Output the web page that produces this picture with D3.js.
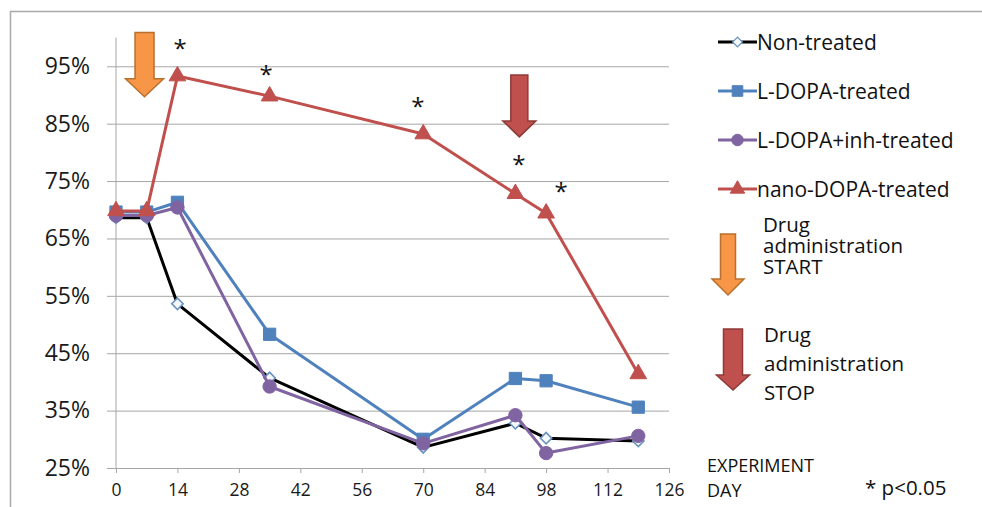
<!DOCTYPE html>
<html>
<head>
<meta charset="utf-8">
<script src="https://cdn.jsdelivr.net/npm/d3@7/dist/d3.min.js"></script>
<style>
  html, body { margin: 0; padding: 0; background: #fff; }
  svg { display: block; font-family: "Open Sans", sans-serif; }
</style>
</head>
<body>
<svg id="chart" width="982" height="507"></svg>
<script>
// ---- data ----
const days = [0, 7, 14, 35, 70, 91, 98, 119];
const nonTreated   = [68.6, 68.6, 53.6, 40.7, 28.6, 32.8, 30.2, 29.7];
const lDopa        = [69.6, 69.6, 71.3, 48.3, 30.0, 40.6, 40.2, 35.6];
const lDopaInh     = [69.0, 69.0, 70.4, 39.2, 29.3, 34.2, 27.6, 30.6];
const nanoDopa     = [69.8, 69.8, 93.3, 89.8, 83.2, 72.8, 69.4, 41.4];
const seriesNames  = ["Non-treated", "L-DOPA-treated", "L-DOPA+inh-treated", "nano-DOPA-treated"];
const xTicks = [0, 14, 28, 42, 56, 70, 84, 98, 112, 126];
const yTicks = [25, 35, 45, 55, 65, 75, 85, 95];
// significance asterisks (day, value)
const starDays   = [14.6, 34.2, 68.8, 91.8, 101.4];
const starValues = [98.8, 94.4, 88.8, 78.7, 74.0];
// drug administration arrows: day, top value, tip value
const arrowStart = { day: 6.5, top: 100.9, tip: 89.7 };
const arrowStop  = { day: 91.9, top: 93.5, tip: 82.7 };

// ---- setup ----
const svg = d3.select("#chart");
const x = d3.scaleLinear().domain([0, 126]).range([116, 669]);
const y = d3.scaleLinear().domain([25, 100]).range([468, 37.6]);
const gridColor = "#a6a6a6";

// frame
svg.append("rect").attr("x", 10.5).attr("y", 11.5).attr("width", 1000).attr("height", 1000)
  .attr("fill", "none").attr("stroke", "#a9a9a9").attr("stroke-width", 1.5);

// gridlines
const grid = svg.append("g").attr("transform", "translate(116,0)")
  .call(d3.axisLeft(y).tickValues(yTicks).tickSize(-553).tickFormat(""));
grid.select(".domain").remove();
grid.selectAll("line").attr("stroke", gridColor).attr("stroke-width", 1);

// y axis
const yAxis = svg.append("g").attr("transform", "translate(116,0)")
  .call(d3.axisLeft(y).tickValues(yTicks).tickSize(9).tickPadding(17).tickSizeOuter(0)
    .tickFormat(d => d + "%"));
yAxis.select(".domain").attr("stroke", gridColor).attr("d", "M0,37.6V468");
yAxis.selectAll("line").attr("stroke", gridColor);
yAxis.selectAll("text").attr("font-size", 23).attr("fill", "#1a1a1a").attr("font-family", "Open Sans");

// x axis
const xAxis = svg.append("g").attr("transform", "translate(0,468)")
  .call(d3.axisBottom(x).tickValues(xTicks).tickSize(5).tickPadding(11).tickSizeOuter(0));
xAxis.select(".domain").attr("stroke", gridColor);
xAxis.selectAll("line").attr("stroke", gridColor);
xAxis.selectAll("text").attr("font-size", 17.5).attr("fill", "#1a1a1a").attr("font-family", "Open Sans");

// ---- series ----
const seriesData = [nonTreated, lDopa, lDopaInh, nanoDopa];
const lineColors = ["#000000", "#4f81bd", "#8064a2", "#c0504d"];
const markerFill = ["#f4f8fb", "#4f81bd", "#8064a2", "#c0504d"];
const markerStroke = ["#6a93c0", "#4f81bd", "#8064a2", "#c0504d"];
const markerTypes = [d3.symbolSquare, d3.symbolSquare, d3.symbolCircle, d3.symbolTriangle];
const markerRot = [45, 0, 0, 0];
const markerSizes = [64, 150, 140, 120];

const line = d3.line().x(d => x(d[0])).y(d => y(d[1]));

seriesData.forEach((vals, i) => {
  const pts = days.map((d, j) => [d, vals[j]]);
  const g = svg.append("g");
  g.append("path").datum(pts).attr("d", line).attr("fill", "none")
    .attr("stroke", lineColors[i]).attr("stroke-width", 3).attr("stroke-linejoin", "round");
  g.selectAll("path.m").data(pts).enter().append("path").attr("class", "m")
    .attr("transform", d => `translate(${x(d[0])},${y(d[1])}) rotate(${markerRot[i]})`)
    .attr("d", d3.symbol().type(markerTypes[i]).size(markerSizes[i]))
    .attr("fill", markerFill[i]).attr("stroke", markerStroke[i]).attr("stroke-width", i === 0 ? 1.6 : 1);
});

// ---- asterisks ----
svg.selectAll("text.star").data(starDays.map((d, i) => [d, starValues[i]])).enter()
  .append("text").attr("class", "star")
  .attr("x", d => x(d[0])).attr("y", d => y(d[1]) + 13)
  .attr("text-anchor", "middle").attr("font-size", 24).attr("fill", "#111").text("*");

// ---- arrows ----
function arrowPath(cx, top, tip, shaftW, headW, headL) {
  const hs = tip - headL;
  return `M${cx - shaftW / 2},${top}H${cx + shaftW / 2}V${hs}H${cx + headW / 2}L${cx},${tip}L${cx - headW / 2},${hs}H${cx - shaftW / 2}Z`;
}
const orangeFill = "#f79646", orangeStroke = "#b8702f";
const redFill = "#c0504d", redStroke = "#8e3a37";

svg.append("path")
  .attr("d", arrowPath(x(arrowStart.day), y(arrowStart.top), y(arrowStart.tip), 19, 38, 18))
  .attr("fill", orangeFill).attr("stroke", orangeStroke).attr("stroke-width", 1.5);
svg.append("path")
  .attr("d", arrowPath(x(arrowStop.day), y(arrowStop.top), y(arrowStop.tip), 17, 33, 16))
  .attr("fill", redFill).attr("stroke", redStroke).attr("stroke-width", 1.5);

// ---- legend ----
const legRows = [42, 91, 140, 189];
const leg = svg.append("g");
seriesNames.forEach((name, i) => {
  const ry = legRows[i];
  leg.append("line").attr("x1", 718).attr("x2", 757).attr("y1", ry).attr("y2", ry)
    .attr("stroke", lineColors[i]).attr("stroke-width", 3);
  leg.append("path").attr("transform", `translate(737.5,${ry}) rotate(${markerRot[i]})`)
    .attr("d", d3.symbol().type(markerTypes[i]).size(markerSizes[i] * 0.75))
    .attr("fill", markerFill[i]).attr("stroke", markerStroke[i]).attr("stroke-width", i === 0 ? 1.2 : 1);
  leg.append("text").attr("x", 757).attr("y", ry + 7.5).attr("font-size", 21).attr("fill", "#111").text(name);
});

// legend arrows
leg.append("path").attr("d", arrowPath(728, 234, 295, 15, 32, 16))
  .attr("fill", orangeFill).attr("stroke", orangeStroke).attr("stroke-width", 1.5);
leg.append("path").attr("d", arrowPath(733, 329, 390, 19, 33, 15))
  .attr("fill", redFill).attr("stroke", redStroke).attr("stroke-width", 1.5);

const startLines = ["Drug", "administration", "START"];
startLines.forEach((t, i) => {
  leg.append("text").attr("x", 763).attr("y", 232 + i * 21).attr("font-size", 20.5).attr("fill", "#111").text(t);
});
const stopLines = ["Drug", "administration", "STOP"];
stopLines.forEach((t, i) => {
  leg.append("text").attr("x", 764).attr("y", 342 + i * 29).attr("font-size", 20.5).attr("fill", "#111").text(t);
});

// axis caption and note
leg.append("text").attr("x", 707).attr("y", 472).attr("font-size", 18).attr("fill", "#111").text("EXPERIMENT");
leg.append("text").attr("x", 707).attr("y", 497).attr("font-size", 18).attr("fill", "#111").text("DAY");
leg.append("text").attr("x", 865).attr("y", 495).attr("font-size", 20.5).attr("fill", "#111").text("* p<0.05");
</script>
</body>
</html>
